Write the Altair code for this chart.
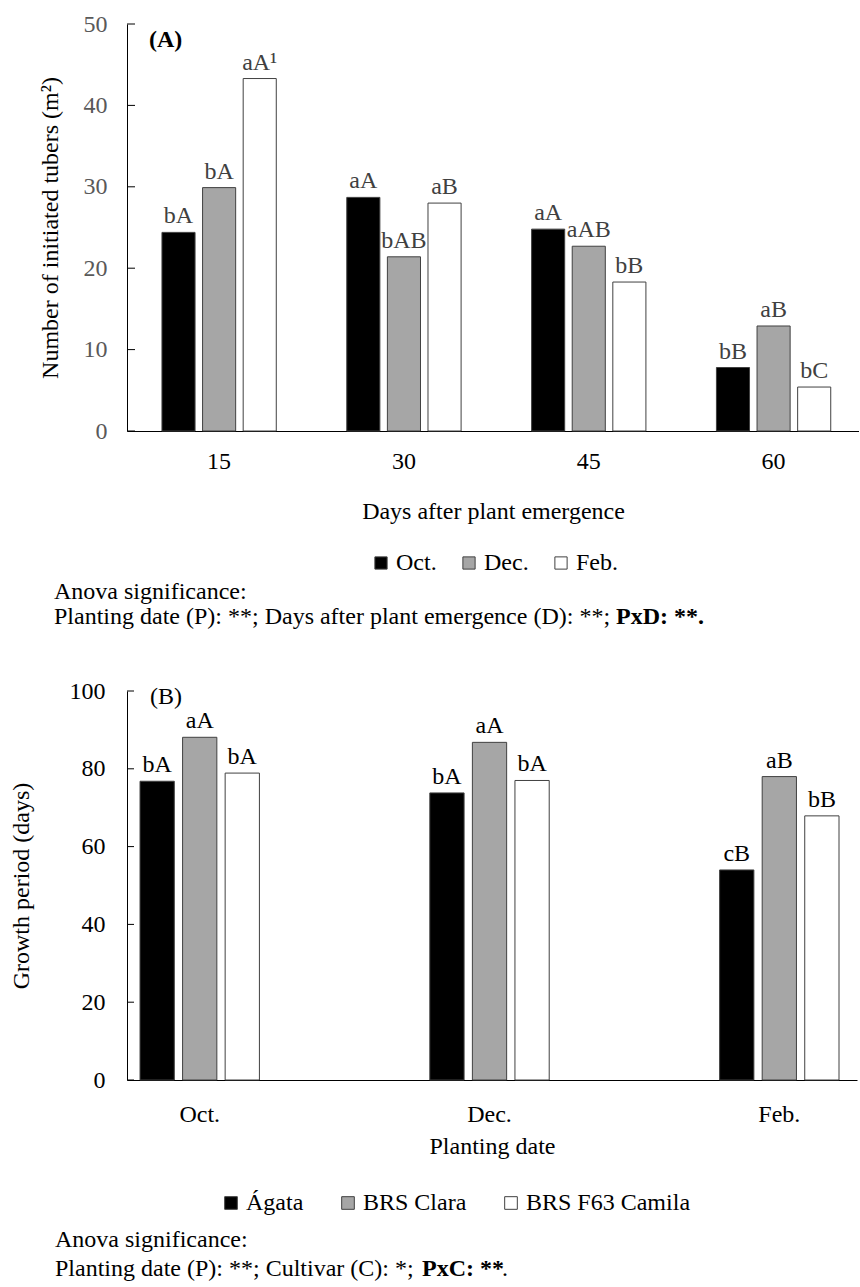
import altair as alt
import pandas as pd

FONT = "Liberation Serif"

# ---------------- Panel A data ----------------
days = ["15", "30", "45", "60"]
dates = ["Oct.", "Dec.", "Feb."]
oct_tubers = [24.4, 28.7, 24.8, 7.8]
dec_tubers = [29.9, 21.4, 22.7, 12.9]
feb_tubers = [43.3, 28.0, 18.3, 5.4]
oct_letters = ["bA", "aA", "aA", "bB"]
dec_letters = ["bA", "bAB", "aAB", "aB"]
feb_letters = ["aA¹", "aB", "bB", "bC"]
ticks_a = [0, 10, 20, 30, 40, 50]

# ---------------- Panel B data ----------------
cultivars = ["Ágata", "BRS Clara", "BRS F63 Camila"]
agata_days = [76.8, 73.8, 54.0]
clara_days = [88.1, 86.8, 78.0]
camila_days = [78.9, 77.0, 67.9]
agata_letters = ["bA", "bA", "cB"]
clara_letters = ["aA", "aA", "aB"]
camila_letters = ["bA", "bA", "bB"]
ticks_b = [0, 20, 40, 60, 80, 100]

fills = ["#000000", "#a6a6a6", "#ffffff"]

rows_a = []
for vals, lets, d in zip([oct_tubers, dec_tubers, feb_tubers],
                         [oct_letters, dec_letters, feb_letters], dates):
    for day, v, l in zip(days, vals, lets):
        rows_a.append({"day": day, "date": d, "value": v, "letter": l})
df_a = pd.DataFrame(rows_a)

rows_b = []
for vals, lets, c in zip([agata_days, clara_days, camila_days],
                         [agata_letters, clara_letters, camila_letters], cultivars):
    for d, v, l in zip(dates, vals, lets):
        rows_b.append({"pdate": d, "cultivar": c, "value": v, "letter": l})
df_b = pd.DataFrame(rows_b)


def txt(s, x, y, bold=False, size=24, color="black"):
    return alt.Chart(pd.DataFrame({"t": [s]})).mark_text(
        font=FONT, fontSize=size, fontWeight="bold" if bold else "normal",
        align="left", baseline="middle", color=color
    ).encode(text="t:N", x=alt.value(x), y=alt.value(y))


# ---------------- Panel A ----------------
WA, HA = 732, 407
xA = alt.X("day:N", sort=days,
           scale=alt.Scale(type="band", domain=days, paddingInner=0.3815,
                           paddingOuter=0.171, align=0.553),
           axis=alt.Axis(title="Days after plant emergence", labelAngle=0, ticks=False,
                         labelPadding=18, titlePadding=26, labelColor="black",
                         domainColor="black"))
xoffA = alt.XOffset("date:N", sort=dates,
                    scale=alt.Scale(type="band", domain=dates,
                                    paddingInner=0.185, paddingOuter=0))
yscaleA = alt.Scale(domain=[0, 50])
yA = alt.Y("value:Q", scale=yscaleA,
           axis=alt.Axis(values=ticks_a, ticks=False, grid=False, labelColor="#595959",
                         labelPadding=20, titlePadding=21,
                         title="Number of initiated tubers (m²)", domainColor="black"))
fillA = alt.Fill("date:N", sort=dates, scale=alt.Scale(domain=dates, range=fills),
                 legend=alt.Legend(title=None, orient="none", legendX=242, legendY=527,
                                   direction="horizontal", symbolType="square", symbolSize=150,
                                   symbolStrokeColor="#404040", symbolStrokeWidth=1,
                                   labelFontSize=24, labelFont=FONT, labelOffset=3,
                                   columnPadding=20, padding=0, labelColor="black",
                                   labelLimit=400))

barsA = alt.Chart(df_a).mark_bar(stroke="#404040", strokeWidth=1).encode(
    x=xA, xOffset=xoffA, y=yA, fill=fillA)
labelsA = alt.Chart(df_a).mark_text(font=FONT, fontSize=24, color="#404040",
                                    baseline="alphabetic", dy=-9).encode(
    x=xA, xOffset=xoffA, y=yA, text="letter:N")
ticksA = alt.Chart(pd.DataFrame({"value": ticks_a})).mark_rule(color="black").encode(
    y=yA, x=alt.value(0), x2=alt.value(8))

panelA = alt.layer(
    barsA, labelsA, ticksA,
    txt("(A)", 22, 16, bold=True),
    txt("Anova significance:", -73, 568),
    txt("Planting date (P): **; Days after plant emergence (D): **; ", -73, 593),
    txt("PxD: **.", 489, 593, bold=True),
).properties(width=WA, height=HA)

# ---------------- Panel B ----------------
WB, HB = 730, 389
xB = alt.X("pdate:N", sort=dates,
           scale=alt.Scale(type="band", domain=dates, paddingInner=0.588,
                           paddingOuter=0.0535, align=0.42),
           axis=alt.Axis(title="Planting date", labelAngle=0, ticks=False,
                         labelPadding=22, titlePadding=8, labelColor="black",
                         domainColor="black"))
xoffB = alt.XOffset("cultivar:N", sort=cultivars,
                    scale=alt.Scale(type="band", domain=cultivars,
                                    paddingInner=0.195, paddingOuter=0))
yscaleB = alt.Scale(domain=[0, 100])
yB = alt.Y("value:Q", scale=yscaleB,
           axis=alt.Axis(values=ticks_b, ticks=False, grid=False, labelColor="black",
                         labelPadding=22, titlePadding=36,
                         title="Growth period (days)", domainColor="black"))
fillB = alt.Fill("cultivar:N", sort=cultivars, scale=alt.Scale(domain=cultivars, range=fills),
                 legend=alt.Legend(title=None, orient="none", legendX=92, legendY=500,
                                   direction="horizontal", symbolType="square", symbolSize=160,
                                   symbolStrokeColor="#404040", symbolStrokeWidth=1,
                                   labelFontSize=24, labelFont=FONT, labelOffset=3,
                                   columnPadding=32, padding=0, labelColor="black",
                                   labelLimit=400))

barsB = alt.Chart(df_b).mark_bar(stroke="#404040", strokeWidth=1).encode(
    x=xB, xOffset=xoffB, y=yB, fill=fillB)
labelsB = alt.Chart(df_b).mark_text(font=FONT, fontSize=24, color="black",
                                    baseline="alphabetic", dy=-9).encode(
    x=xB, xOffset=xoffB, y=yB, text="letter:N")
ticksB = alt.Chart(pd.DataFrame({"value": ticks_b})).mark_rule(color="black").encode(
    y=yB, x=alt.value(0), x2=alt.value(7))

panelB = alt.layer(
    barsB, labelsB, ticksB,
    txt("(B)", 23, 6),
    txt("Anova significance:", -72, 549),
    txt("Planting date (P): **; Cultivar (C): *; ", -72, 578),
    txt("PxC: **", 295, 578, bold=True),
    txt(".", 375, 578),
).properties(width=WB, height=HB)

chart = alt.vconcat(panelA, panelB, spacing=50).properties(
    padding={"left": 9, "top": 12, "right": 0, "bottom": 0},
    background="white",
).configure_view(stroke=None).configure_axis(
    labelFont=FONT, titleFont=FONT, labelFontSize=24, titleFontSize=24,
    titleFontWeight="normal", titleColor="black", domainWidth=1,
).resolve_scale(fill="independent", xOffset="independent")

chart.save("out.html", embed_options={"renderer": "svg", "actions": False})
